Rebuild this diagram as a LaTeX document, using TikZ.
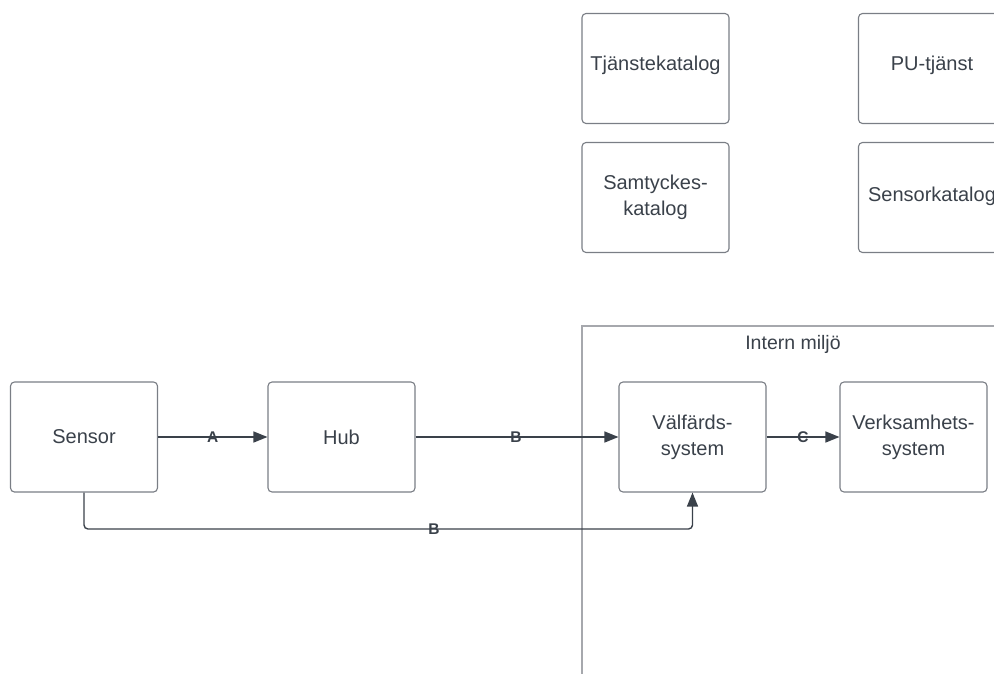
\documentclass[tikz,border=0pt]{standalone}
\usepackage{fontspec}
\setmainfont{Liberation Sans}
\usetikzlibrary{arrows.meta}
\definecolor{txt}{HTML}{3A414A}
\definecolor{bord}{HTML}{7A7E85}
\definecolor{frame}{HTML}{A6A8AD}
\definecolor{arr}{HTML}{3A414A}
\tikzset{
  box/.style={draw=bord, line width=1.1pt, rounded corners=4pt, minimum width=147pt, minimum height=110pt,
    align=center, text=txt, font=\fontsize{20}{26}\selectfont, inner sep=0pt},
  conn/.style={draw=arr, line width=1.4pt, -{Triangle[length=14pt,width=11pt]}},
  lbl/.style={text=txt, font=\fontsize{15.5}{18}\selectfont\bfseries, inner sep=1pt},
}
\begin{document}
\begin{tikzpicture}[x=1pt,y=-1pt]
\useasboundingbox (0,0) rectangle (994,673);
\clip (0,0) rectangle (994,673);
% frame
\draw[frame, line width=1.1pt] (582,700) -- (582,326) -- (1010,326);
\node[text=txt, font=\fontsize{19.5}{23}\selectfont] (lab) at (793,344) {Intern miljö};
% top boxes
\node[box] (tj) at (655.5,68.5) {};
\node[text=txt, font=\fontsize{20}{26}\selectfont] (tjt) at (655.5,65) {Tjänstekatalog};
\node[box] (pu) at (932,68.5) {};
\node[text=txt, font=\fontsize{20}{26}\selectfont] (put) at (932,65) {PU-tjänst};
\node[box] (sa) at (655.5,197.5) {Samtyckes-\\katalog};
\node[box] (sk) at (932,197.5) {};
\node[text=txt, font=\fontsize{20}{26}\selectfont] (skt) at (932,196) {Sensorkatalog};
% flow
\node[box] (sen) at (84,437) {Sensor};
\node[box] (hub) at (341.5,437) {Hub};
\node[box] (val) at (692.5,437) {Välfärds-\\system};
\node[box] (ver) at (913.5,437) {Verksamhets-\\system};
\draw[conn] (sen) -- node[lbl] (la) {A} (hub);
\draw[conn] (hub) -- node[lbl, xshift=-1pt] (lb) {B} (val);
\draw[conn] (val) -- node[lbl] (lc) {C} (ver);
\coordinate (low) at (84,529);
\draw[conn, rounded corners=4pt] (sen.south) -- (low) -| (val.south);
\node[lbl] (lb2) at (434,529) {B};
\end{tikzpicture}
\end{document}
